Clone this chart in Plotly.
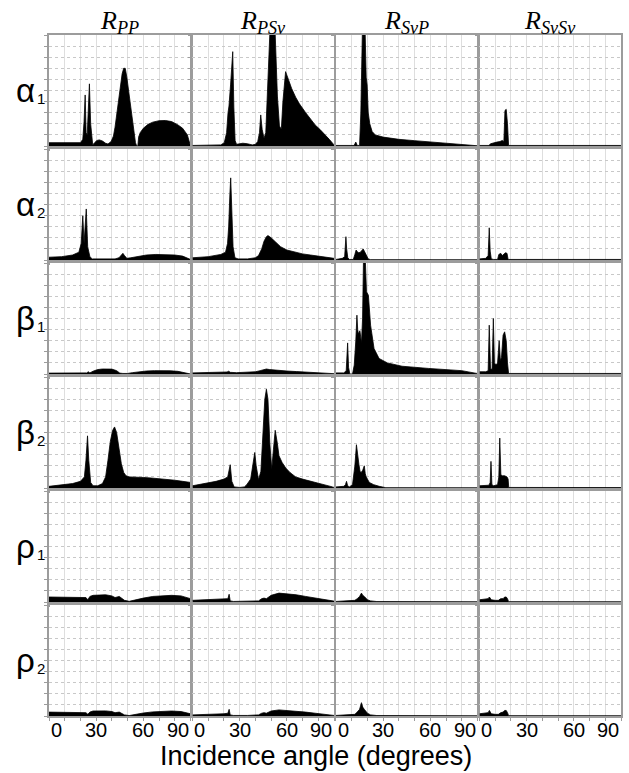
import plotly.graph_objects as go
from plotly.subplots import make_subplots

# ---------------- data (angle in degrees, normalized amplitude) ----------------
ROWS = ["α", "α", "β", "β", "ρ", "ρ"]
ROW_SUBS = ["1", "2", "1", "2", "1", "2"]
COLS = ["PP", "PSv", "SvP", "SvSv"]
TICK_VALS = [0, 30, 60, 90]
TICK_TEXT = ["0", "30", "60", "90"]
X_TITLE = "Incidence angle (degrees)"

# row alpha1
ANG_PP_A1 = [0, 20, 21.5, 22.3, 23, 23.6, 24.3, 25, 25.7, 26.5, 27.8, 29, 30.5, 32, 34, 36, 37.5, 39.5, 41, 42, 43, 45, 46.5, 47.5, 48.5, 49.5, 50.5, 52, 53.5, 55, 55.8, 56.5, 57, 58, 60, 63, 66, 70, 74, 78, 82, 85, 88, 89.5, 90]
VAL_PP_A1 = [0.03, 0.03, 0.06, 0.22, 0.46, 0.12, 0.1, 0.3, 0.56, 0.2, 0.01, 0.03, 0.05, 0.055, 0.045, 0.025, 0.018, 0.04, 0.09, 0.17, 0.28, 0.5, 0.65, 0.70, 0.70, 0.62, 0.52, 0.35, 0.18, 0.03, 0.0, 0.0, 0.08, 0.12, 0.16, 0.195, 0.215, 0.228, 0.23, 0.22, 0.19, 0.16, 0.1, 0.03, 0.0]
ANG_PSV_A1 = [0, 12, 18, 20.2, 21.7, 22.6, 23.2, 24.2, 25, 25.6, 26.3, 27.1, 28, 30, 32, 35, 38, 40, 41.5, 42.6, 43.4, 44.3, 45.5, 46.6, 48, 49.3, 52.5, 54, 55.3, 56.5, 57.5, 58.5, 59.2, 61, 63, 65.6, 68, 72, 75, 78, 81, 84.6, 87, 90]
VAL_PSV_A1 = [0.005, 0.005, 0.01, 0.03, 0.12, 0.3, 0.36, 0.55, 0.75, 0.85, 0.35, 0.05, 0.015, 0.02, 0.025, 0.02, 0.01, 0.015, 0.04, 0.12, 0.28, 0.15, 0.07, 0.12, 0.6, 1.05, 1.05, 0.45, 0.18, 0.15, 0.4, 0.6, 0.67, 0.6, 0.52, 0.44, 0.38, 0.30, 0.24, 0.19, 0.15, 0.10, 0.06, 0.01]
ANG_SVP_A1 = [0, 11.5, 12.6, 13.5, 15, 15.8, 16.8, 18.5, 19.2, 19.8, 20.5, 21.5, 23, 25, 30, 35, 40, 50, 60, 70, 80, 86, 90]
VAL_SVP_A1 = [0.005, 0.005, 0.035, 0.005, 0.005, 0.3, 1.05, 1.05, 0.62, 0.55, 0.3, 0.2, 0.13, 0.1, 0.08, 0.07, 0.06, 0.048, 0.035, 0.025, 0.015, 0.008, 0.002]
ANG_SVSV_A1 = [0, 6, 7, 9, 11, 13, 14.5, 15.5, 16.2, 17, 17.8, 18.5, 90]
VAL_SVSV_A1 = [0.005, 0.005, 0.02, 0.03, 0.035, 0.04, 0.05, 0.04, 0.32, 0.33, 0.2, 0.005, 0.005]

# row alpha2
ANG_PP_A2 = [0, 8, 15, 19, 20.5, 21.5, 22.3, 23, 23.7, 24.6, 26, 27.5, 32, 38, 42, 44.5, 46, 47, 48, 49.5, 52, 57, 62, 68, 74, 80, 85, 88, 90]
VAL_PP_A2 = [0.025, 0.03, 0.045, 0.07, 0.15, 0.4, 0.15, 0.3, 0.46, 0.12, 0.03, 0.01, 0.01, 0.01, 0.01, 0.02, 0.05, 0.06, 0.04, 0.015, 0.02, 0.035, 0.045, 0.05, 0.05, 0.045, 0.035, 0.02, 0.005]
ANG_PSV_A2 = [0, 10, 18, 21, 22.3, 23, 23.8, 24.3, 25, 25.8, 27, 29, 35, 40, 42, 44, 45.5, 47, 48, 50, 53, 56, 60, 65, 70, 75, 80, 85, 90]
VAL_PSV_A2 = [0.02, 0.03, 0.05, 0.07, 0.15, 0.3, 0.6, 0.74, 0.45, 0.12, 0.02, 0.01, 0.01, 0.02, 0.04, 0.1, 0.17, 0.21, 0.22, 0.2, 0.16, 0.12, 0.09, 0.07, 0.055, 0.045, 0.035, 0.025, 0.015]
ANG_SVP_A2 = [0, 4, 5.5, 6.3, 6.8, 7.5, 8.5, 11, 12, 12.8, 13.5, 14.5, 15.5, 16.5, 17.3, 18, 19, 20.5, 22, 90]
VAL_SVP_A2 = [0.005, 0.015, 0.03, 0.21, 0.1, 0.02, 0.005, 0.005, 0.05, 0.09, 0.075, 0.065, 0.07, 0.085, 0.1, 0.08, 0.05, 0.01, 0.003, 0.002]
ANG_SVSV_A2 = [0, 4, 5.5, 6.2, 6.8, 7.5, 9, 11.5, 12.3, 13.5, 14.5, 15.5, 16.5, 17.5, 18.2, 90]
VAL_SVSV_A2 = [0.01, 0.015, 0.04, 0.29, 0.08, 0.01, 0.005, 0.005, 0.05, 0.06, 0.04, 0.05, 0.065, 0.06, 0.005, 0.005]

# row beta1
ANG_PP_B1 = [0, 20, 24, 25, 26, 28, 31, 34, 37, 40, 43, 45, 47, 50, 53, 57, 62, 67, 72, 77, 82, 86, 89, 90]
VAL_PP_B1 = [0.008, 0.008, 0.01, 0.02, 0.01, 0.025, 0.04, 0.045, 0.047, 0.044, 0.03, 0.008, 0.005, 0.005, 0.012, 0.02, 0.027, 0.03, 0.031, 0.029, 0.024, 0.015, 0.005, 0.0]
ANG_PSV_B1 = [0, 10, 20, 22, 23, 24, 28, 35, 40, 43, 45, 47, 49, 52, 56, 60, 66, 72, 78, 84, 90]
VAL_PSV_B1 = [0.01, 0.012, 0.015, 0.018, 0.025, 0.015, 0.012, 0.015, 0.02, 0.03, 0.04, 0.045, 0.04, 0.035, 0.03, 0.027, 0.022, 0.018, 0.013, 0.008, 0.003]
ANG_SVP_B1 = [0, 5, 6.5, 7.4, 8, 8.8, 10.5, 11.6, 12.6, 13.3, 13.8, 14.3, 15.2, 16.2, 16.9, 17.5, 18.6, 19.4, 20.6, 22, 24.2, 27.4, 32.7, 42, 59, 80, 89.6, 90]
VAL_SVP_B1 = [0.01, 0.01, 0.03, 0.28, 0.06, 0.0, 0.0, 0.08, 0.3, 0.53, 0.4, 0.36, 0.39, 0.28, 0.5, 1.05, 1.05, 0.74, 0.71, 0.44, 0.23, 0.14, 0.1, 0.07, 0.05, 0.03, 0.005, 0.0]
ANG_SVSV_B1 = [0, 4, 5.5, 6.2, 7, 8, 8.8, 9.5, 10.5, 11.5, 12.5, 13.3, 14, 15, 16, 17, 17.8, 18.5, 90]
VAL_SVSV_B1 = [0.02, 0.02, 0.03, 0.44, 0.05, 0.04, 0.5, 0.1, 0.08, 0.1, 0.3, 0.12, 0.15, 0.35, 0.38, 0.3, 0.1, 0.005, 0.005]

# row beta2
ANG_PP_B2 = [0, 8, 15, 20, 22.5, 23.5, 24.5, 25.3, 26.5, 28, 31, 34, 36, 37.5, 39, 40.5, 41.7, 43, 44.5, 46, 47.5, 49, 51, 55, 60, 65, 70, 75, 80, 85, 90]
VAL_PP_B2 = [0.015, 0.025, 0.04, 0.06, 0.1, 0.25, 0.47, 0.25, 0.05, 0.02, 0.02, 0.04, 0.1, 0.25, 0.42, 0.52, 0.55, 0.5, 0.35, 0.22, 0.14, 0.11, 0.1, 0.1, 0.095, 0.09, 0.085, 0.08, 0.07, 0.06, 0.05]
ANG_PSV_B2 = [0, 8, 15, 20, 22.4, 24, 25, 26.5, 30, 33, 34.5, 37, 38.5, 39.6, 40.5, 42, 43.5, 45, 46, 47, 48, 49.2, 50.4, 51.5, 52.6, 54, 55, 57, 59.3, 62, 65.6, 70, 76, 82, 89, 90]
VAL_PSV_B2 = [0.02, 0.04, 0.06, 0.08, 0.1, 0.21, 0.06, 0.01, 0.005, 0.01, 0.03, 0.08, 0.2, 0.32, 0.2, 0.075, 0.15, 0.5, 0.8, 0.89, 0.8, 0.4, 0.17, 0.35, 0.52, 0.4, 0.29, 0.23, 0.18, 0.14, 0.1, 0.08, 0.06, 0.04, 0.01, 0.005]
ANG_SVP_B2 = [0, 5, 6, 6.7, 7.4, 8.5, 10.5, 12, 13, 14, 14.6, 15.3, 16, 17, 18, 18.6, 19.2, 21.2, 24, 27.5, 31.7, 90]
VAL_SVP_B2 = [0.01, 0.015, 0.03, 0.06, 0.02, 0.01, 0.03, 0.2, 0.39, 0.25, 0.21, 0.15, 0.14, 0.16, 0.2, 0.13, 0.1, 0.05, 0.03, 0.015, 0.003, 0.002]
ANG_SVSV_B2 = [0, 6, 6.8, 7.3, 7.9, 9, 11.5, 12.3, 12.9, 13.6, 14.5, 16, 17.5, 18.2, 18.6, 90]
VAL_SVSV_B2 = [0.02, 0.025, 0.05, 0.24, 0.03, 0.02, 0.03, 0.1, 0.45, 0.12, 0.11, 0.11, 0.1, 0.08, 0.005, 0.004]

# row rho1
ANG_PP_R1 = [0, 10, 20, 23.5, 24.7, 26, 28, 32, 36, 40, 42, 44.7, 46.5, 48, 51, 55, 60, 66, 72, 78, 84, 88, 90]
VAL_PP_R1 = [0.045, 0.045, 0.045, 0.04, 0.02, 0.05, 0.06, 0.065, 0.065, 0.055, 0.04, 0.05, 0.03, 0.015, 0.006, 0.02, 0.035, 0.05, 0.058, 0.06, 0.055, 0.04, 0.03]
ANG_PSV_R1 = [0, 10, 20, 22.5, 23.3, 24, 26, 35, 42, 44, 45.5, 47, 50, 55, 60, 66, 72, 78, 84, 90]
VAL_PSV_R1 = [0.015, 0.02, 0.025, 0.03, 0.07, 0.01, 0.005, 0.005, 0.01, 0.03, 0.035, 0.03, 0.06, 0.08, 0.075, 0.065, 0.05, 0.035, 0.02, 0.008]
ANG_SVP_R1 = [0, 10, 12, 13.5, 15, 16.2, 17, 18, 19, 20, 22, 26, 90]
VAL_SVP_R1 = [0.005, 0.008, 0.015, 0.03, 0.05, 0.08, 0.06, 0.05, 0.03, 0.02, 0.01, 0.004, 0.002]
ANG_SVSV_R1 = [0, 3, 5.5, 6.3, 7.5, 10, 12, 13.5, 15, 16, 17, 17.8, 18.5, 90]
VAL_SVSV_R1 = [0.02, 0.025, 0.03, 0.045, 0.02, 0.015, 0.015, 0.03, 0.03, 0.045, 0.045, 0.03, 0.003, 0.002]

# row rho2
ANG_PP_R2 = [0, 10, 20, 23.5, 24.7, 26, 28, 32, 36, 40, 42, 44.7, 46.5, 48, 51, 55, 60, 66, 72, 78, 84, 88, 90]
VAL_PP_R2 = [0.035, 0.035, 0.035, 0.03, 0.015, 0.035, 0.045, 0.048, 0.046, 0.04, 0.03, 0.035, 0.02, 0.01, 0.004, 0.015, 0.027, 0.037, 0.043, 0.045, 0.04, 0.03, 0.02]
ANG_PSV_R2 = [0, 10, 20, 22.5, 23.3, 24, 26, 35, 42, 44, 45.5, 47, 50, 55, 60, 66, 72, 78, 84, 90]
VAL_PSV_R2 = [0.01, 0.012, 0.02, 0.025, 0.06, 0.01, 0.005, 0.005, 0.01, 0.025, 0.03, 0.025, 0.045, 0.055, 0.05, 0.045, 0.035, 0.025, 0.015, 0.005]
ANG_SVP_R2 = [0, 10, 12, 13.5, 15, 16.2, 17, 18, 19, 20, 22, 26, 90]
VAL_SVP_R2 = [0.005, 0.008, 0.015, 0.035, 0.06, 0.12, 0.08, 0.06, 0.04, 0.025, 0.01, 0.004, 0.002]
ANG_SVSV_R2 = [0, 3, 5.5, 6.3, 7.5, 10, 12, 13.5, 15, 16, 17, 17.8, 18.5, 90]
VAL_SVSV_R2 = [0.02, 0.025, 0.03, 0.05, 0.02, 0.015, 0.015, 0.03, 0.035, 0.05, 0.05, 0.03, 0.003, 0.002]

PANELS = [
    [(ANG_PP_A1, VAL_PP_A1), (ANG_PSV_A1, VAL_PSV_A1), (ANG_SVP_A1, VAL_SVP_A1), (ANG_SVSV_A1, VAL_SVSV_A1)],
    [(ANG_PP_A2, VAL_PP_A2), (ANG_PSV_A2, VAL_PSV_A2), (ANG_SVP_A2, VAL_SVP_A2), (ANG_SVSV_A2, VAL_SVSV_A2)],
    [(ANG_PP_B1, VAL_PP_B1), (ANG_PSV_B1, VAL_PSV_B1), (ANG_SVP_B1, VAL_SVP_B1), (ANG_SVSV_B1, VAL_SVSV_B1)],
    [(ANG_PP_B2, VAL_PP_B2), (ANG_PSV_B2, VAL_PSV_B2), (ANG_SVP_B2, VAL_SVP_B2), (ANG_SVSV_B2, VAL_SVSV_B2)],
    [(ANG_PP_R1, VAL_PP_R1), (ANG_PSV_R1, VAL_PSV_R1), (ANG_SVP_R1, VAL_SVP_R1), (ANG_SVSV_R1, VAL_SVSV_R1)],
    [(ANG_PP_R2, VAL_PP_R2), (ANG_PSV_R2, VAL_PSV_R2), (ANG_SVP_R2, VAL_SVP_R2), (ANG_SVSV_R2, VAL_SVSV_R2)],
]

# ---------------- layout ----------------
W, H = 629, 773
ML, MR, MT, MB = 49, 6, 35, 57
PW, PH = W - ML - MR, H - MT - MB

fig = make_subplots(rows=6, cols=4, horizontal_spacing=2.0 / PW, vertical_spacing=3.0 / PH)

for r in range(6):
    for c in range(4):
        xs, ys = PANELS[r][c]
        fig.add_trace(go.Scatter(x=xs, y=ys, mode="lines", fill="tozeroy",
                                 line=dict(color="black", width=0.8), fillcolor="black",
                                 hoverinfo="skip", showlegend=False), row=r + 1, col=c + 1)

axis_common = dict(showgrid=True, gridwidth=1,
                   showline=True, mirror=True, linecolor="#9c9c9c", linewidth=1.5,
                   ticks="outside", ticklen=3, tickcolor="#9c9c9c", tickwidth=1,
                   showticklabels=False, zeroline=False, fixedrange=True)
fig.update_xaxes(range=[0, 90], dtick=10, gridcolor="#dedede", griddash="solid", **axis_common)
fig.update_yaxes(range=[0, 1], dtick=0.1, gridcolor="#c8c8c8", griddash="dot", **axis_common)

annotations = []
def px_to_py(p):
    return (H - MB - p) / PH

def px_to_xx(p):
    return (p - ML) / PW

# column titles
for c, name in enumerate(COLS):
    ax = fig.layout["xaxis" + (str(c + 1) if c else "")]
    cx = (ax.domain[0] + ax.domain[1]) / 2
    annotations.append(dict(x=cx, y=px_to_py(22), xref="paper", yref="paper",
                            text="<i>R<sub>%s</sub></i>" % name, showarrow=False,
                            font=dict(family="Liberation Serif", size=26, color="black"),
                            xanchor="center", yanchor="middle"))

# row labels
for r in range(6):
    ay = fig.layout["yaxis" + (str(r * 4 + 1) if r else "")]
    cy = (ay.domain[0] + ay.domain[1]) / 2
    annotations.append(dict(x=px_to_xx(14), y=cy, xref="paper", yref="paper",
                            text=ROWS[r], showarrow=False,
                            font=dict(family="Liberation Sans", size=33, color="black"),
                            xanchor="left", yanchor="middle"))
    annotations.append(dict(x=px_to_xx(35), y=cy - 8.0 / PH, xref="paper", yref="paper",
                            text=ROW_SUBS[r], showarrow=False,
                            font=dict(family="Liberation Sans", size=15, color="black"),
                            xanchor="left", yanchor="middle"))

# bottom tick labels
for c in range(4):
    xr = "x%d" % (20 + c + 1)
    for v, t in zip(TICK_VALS, TICK_TEXT):
        anchor = "left" if v == TICK_VALS[0] else ("right" if v == TICK_VALS[-1] else "center")
        annotations.append(dict(x=v, y=px_to_py(730), xref=xr, yref="paper", text=t,
                                showarrow=False, xanchor=anchor, yanchor="middle",
                                font=dict(family="Liberation Sans", size=20, color="black")))

annotations.append(dict(x=px_to_xx(317), y=px_to_py(756), xref="paper", yref="paper",
                        text=X_TITLE, showarrow=False, xanchor="center", yanchor="middle",
                        font=dict(family="Liberation Sans", size=27, color="black")))

fig.update_layout(width=W, height=H, margin=dict(l=ML, r=MR, t=MT, b=MB),
                  paper_bgcolor="white", plot_bgcolor="white",
                  annotations=annotations, showlegend=False)

fig.write_html("out.html", config={"displayModeBar": False},
               post_script="document.body.style.margin='0px';document.body.style.overflow='hidden';")
